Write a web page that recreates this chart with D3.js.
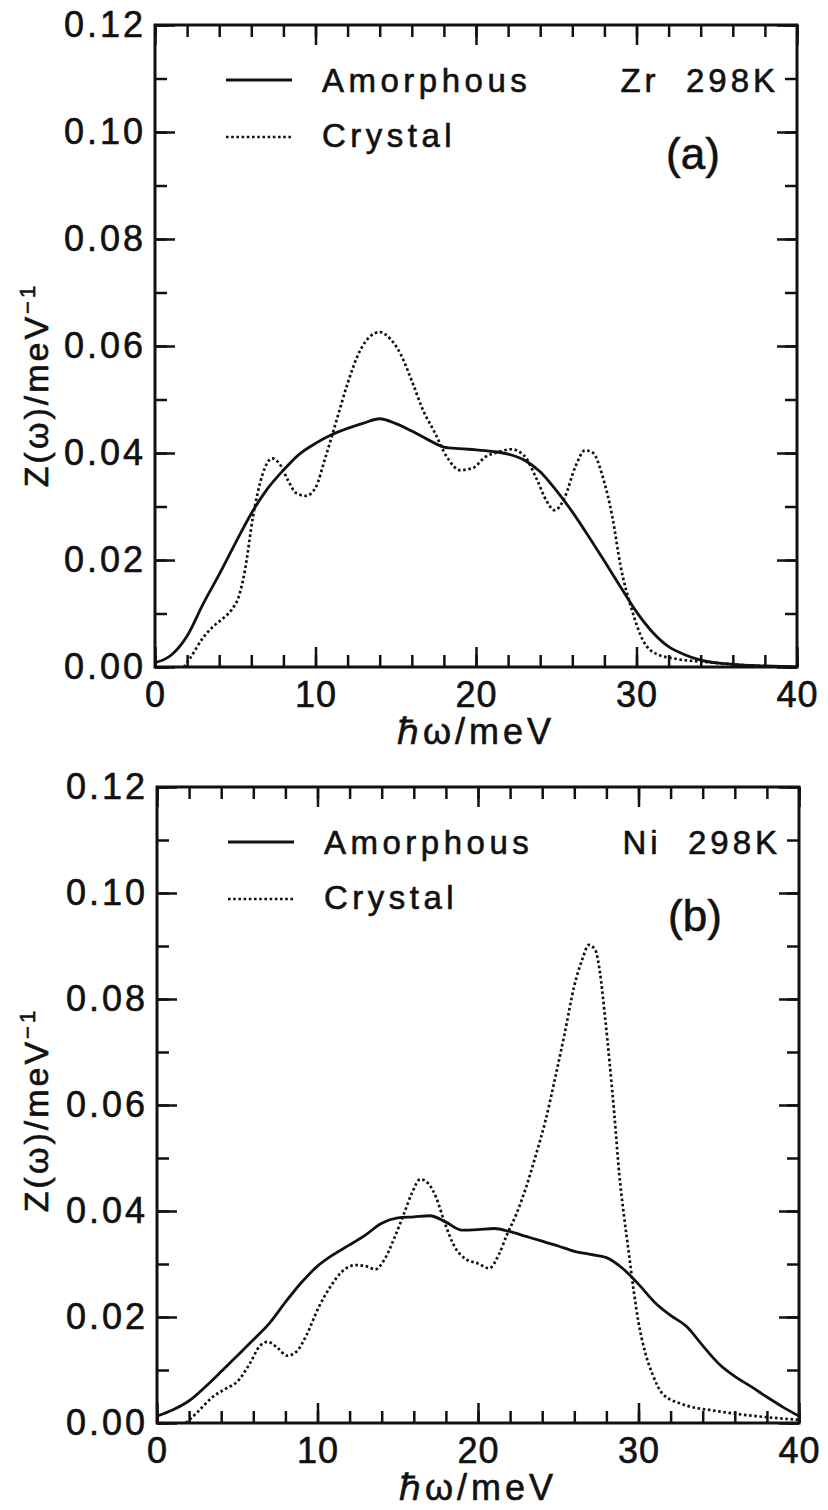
<!DOCTYPE html>
<html>
<head>
<meta charset="utf-8">
<script src="https://cdn.jsdelivr.net/npm/d3@7"></script>
<style>
body { margin: 0; background: #fff; }
svg text { font-family: "Liberation Sans", Arial, Helvetica, sans-serif; fill: #111; stroke: #111; stroke-width: 0.6px; }
</style>
</head>
<body>
<div class="fig"></div>
<script>
// values
var xTicks = [0, 10, 20, 30, 40];
var yTicks = [0, 0.02, 0.04, 0.06, 0.08, 0.10, 0.12];
var seriesNames = ["Amorphous", "Crystal"];

// (a) Zr 298K
var zrAmE = [0,1,2,3,4,5,6,7,8,9,10,11,12,13,14,15,16,17,18,19,20,21,22,23,24,25,26,27,28,29,30,31,32,33,34,36,38,40];
var zrAmZ = [0.0008,0.0022,0.0058,0.0118,0.0173,0.0231,0.0287,0.0333,0.0368,0.0398,
             0.0418,0.0434,0.0446,0.0456,0.0464,0.0455,0.0441,0.0425,0.0411,0.0408,
             0.0406,0.0403,0.0398,0.0387,0.0365,0.033,0.029,0.0245,0.0198,0.015,
             0.0103,0.0065,0.0038,0.0023,0.0013,0.0005,0.0002,0.0];
var zrCrE = [1.8,2.2,3.0,3.6,4.2,4.8,5.2,5.6,6.1,6.7,7.3,7.8,8.3,8.8,9.4,10.0,10.6,11.3,12.0,12.6,
             13.3,14.0,14.7,15.3,16.0,16.7,17.4,18.2,19.0,19.8,20.6,21.4,22.2,23.0,23.8,24.4,24.9,25.5,
             26.2,26.8,27.3,27.9,28.5,29.0,29.7,30.4,31.2,32.5,34.5,37,40];
var zrCrZ = [0,0.0017,0.0055,0.0075,0.009,0.0108,0.013,0.018,0.028,0.036,0.039,0.0378,0.0348,0.0325,
             0.032,0.0335,0.039,0.046,0.053,0.058,0.0615,0.0626,0.0612,0.0585,0.0535,0.048,0.044,
             0.0392,0.0368,0.0372,0.0393,0.0402,0.0407,0.0395,0.035,0.031,0.0293,0.0315,0.0375,
             0.0405,0.040,0.0355,0.028,0.019,0.0108,0.005,0.0025,0.0015,0.0009,0.0003,0];

// (b) Ni 298K
var niAmE = [0,1,2,3,4,5,6,7,8,9,10,11,12,13,14,15,16,17,18,19,20,21,22,23,24,25,26,27,28,29,30,31,32,33,34,35,36,37,38,39,40];
var niAmZ = [0.0013,0.0025,0.0042,0.0068,0.0097,0.0127,0.0157,0.0188,0.0228,0.0265,
             0.0296,0.0318,0.0336,0.0355,0.0377,0.0387,0.0389,0.0391,0.0379,0.0364,
             0.0365,0.0367,0.0361,0.0352,0.0343,0.0334,0.0324,0.0318,0.0312,0.0292,
             0.0262,0.0228,0.0203,0.0182,0.0146,0.0112,0.0088,0.0069,0.0049,0.003,0.0013];
var niCrE = [1.8,2.5,3.5,4.3,5.0,5.8,6.4,6.9,7.5,8.1,8.7,9.3,10.1,10.8,11.5,12.4,13.0,13.6,14.2,14.8,
             15.4,15.9,16.4,16.9,17.4,17.9,18.5,19.2,20.0,20.7,21.3,21.8,22.4,23.0,23.6,24.2,24.8,25.4,
             26.0,26.5,26.9,27.3,27.6,27.9,28.2,28.5,28.8,29.1,29.4,29.7,30.0,30.4,30.9,31.5,32.6,35.0,37.3,40];
var niCrZ = [0,0.002,0.005,0.0065,0.0078,0.0113,0.0145,0.0153,0.0142,0.0127,0.0135,0.0165,0.022,0.0257,
             0.0285,0.0298,0.0296,0.029,0.031,0.035,0.0396,0.0435,0.046,0.0452,0.0425,0.038,0.0335,0.031,
             0.0301,0.0292,0.0318,0.0355,0.0395,0.0445,0.0505,0.057,0.065,0.0735,0.0825,0.0875,0.0902,
             0.0893,0.085,0.077,0.068,0.058,0.047,0.039,0.032,0.025,0.019,0.0135,0.009,0.0055,0.0037,
             0.0022,0.0013,0.0006];

var svg = d3.select(".fig").append("svg").attr("width", 828).attr("height", 1510);

drawPanel({left: 155, right: 797, top: 25, bottom: 667, sample: "Zr  298K", tag: "(a)", ylabelY: 385,
           am: [zrAmE, zrAmZ], cr: [zrCrE, zrCrZ]});
drawPanel({left: 157, right: 799, top: 787, bottom: 1423, sample: "Ni  298K", tag: "(b)", ylabelY: 1110,
           am: [niAmE, niAmZ], cr: [niCrE, niCrZ]});

function zip(xs, ys) {
  return xs.map(function(d, i) { return {e: d, z: ys[i]}; });
}

function drawPanel(p) {
  var x = d3.scaleLinear().domain([0, 40]).range([p.left, p.right]);
  var y = d3.scaleLinear().domain([0, 0.12]).range([p.bottom, p.top]);
  var g = svg.append("g");

  function clean(sel) {
    sel.select(".domain").remove();
    sel.selectAll(".tick line").attr("stroke", "#111").attr("stroke-width", 2.5);
  }

  // minor ticks (inside)
  g.append("g").attr("transform", "translate(0," + p.bottom + ")")
    .call(d3.axisBottom(x).tickValues(x.ticks(20)).tickSize(-12).tickFormat("")).call(clean);
  g.append("g").attr("transform", "translate(0," + p.top + ")")
    .call(d3.axisTop(x).tickValues(x.ticks(20)).tickSize(-12).tickFormat("")).call(clean);
  g.append("g").attr("transform", "translate(" + p.left + ",0)")
    .call(d3.axisLeft(y).tickValues(y.ticks(12)).tickSize(-12).tickFormat("")).call(clean);
  g.append("g").attr("transform", "translate(" + p.right + ",0)")
    .call(d3.axisRight(y).tickValues(y.ticks(12)).tickSize(-12).tickFormat("")).call(clean);

  // major ticks + labels
  var xb = g.append("g").attr("transform", "translate(0," + p.bottom + ")")
    .call(d3.axisBottom(x).tickValues(xTicks).tickSize(-20).tickPadding(14)).call(clean);
  xb.selectAll("text").attr("font-size", null).attr("font-family", null)
    .style("font-size", "36px").style("letter-spacing", "1px");
  g.append("g").attr("transform", "translate(0," + p.top + ")")
    .call(d3.axisTop(x).tickValues(xTicks).tickSize(-20).tickFormat("")).call(clean);
  var yl = g.append("g").attr("transform", "translate(" + p.left + ",0)")
    .call(d3.axisLeft(y).tickValues(yTicks).tickSize(-20).tickPadding(9).tickFormat(d3.format(".2f"))).call(clean);
  yl.selectAll("text").attr("font-size", null).attr("font-family", null)
    .style("font-size", "36px").style("letter-spacing", "3px");
  g.append("g").attr("transform", "translate(" + p.right + ",0)")
    .call(d3.axisRight(y).tickValues(yTicks).tickSize(-20).tickFormat("")).call(clean);

  // frame
  g.append("rect").attr("x", p.left).attr("y", p.top)
    .attr("width", p.right - p.left).attr("height", p.bottom - p.top)
    .attr("fill", "none").attr("stroke", "#111").attr("stroke-width", 3);

  var line = d3.line()
    .x(function(d) { return x(d.e); })
    .y(function(d) { return y(d.z); })
    .curve(d3.curveMonotoneX);

  g.append("path").datum(zip(p.am[0], p.am[1]))
    .attr("d", line).attr("fill", "none").attr("stroke", "#111").attr("stroke-width", 2.8);
  g.append("path").datum(zip(p.cr[0], p.cr[1]))
    .attr("d", line).attr("fill", "none").attr("stroke", "#111")
    .attr("stroke-width", 2.7).attr("stroke-dasharray", "2.6,2.6");

  // legend
  var lx = p.left + 71;
  g.append("line").attr("x1", lx).attr("x2", lx + 66).attr("y1", p.top + 55).attr("y2", p.top + 55)
    .attr("stroke", "#111").attr("stroke-width", 2.8);
  g.append("line").attr("x1", lx).attr("x2", lx + 66).attr("y1", p.top + 112).attr("y2", p.top + 112)
    .attr("stroke", "#111").attr("stroke-width", 2.7).attr("stroke-dasharray", "2.6,2.6");
  g.append("text").attr("x", lx + 96).attr("y", p.top + 67).text(seriesNames[0])
    .style("font-size", "33px").style("letter-spacing", "4.5px");
  g.append("text").attr("x", lx + 96).attr("y", p.top + 122).text(seriesNames[1])
    .style("font-size", "33px").style("letter-spacing", "4.5px");
  g.append("text").attr("x", p.right - 18).attr("y", p.top + 67).attr("text-anchor", "end")
    .style("white-space", "pre").text(p.sample)
    .style("font-size", "33px").style("letter-spacing", "4px");
  g.append("text").attr("x", p.right - 104).attr("y", p.top + 144).attr("text-anchor", "middle")
    .text(p.tag).style("font-size", "44px");

  // axis titles
  g.append("text").attr("x", (p.left + p.right) / 2).attr("y", p.bottom + 77)
    .attr("text-anchor", "middle").text("\u210Fω/meV")
    .style("font-size", "36px").style("letter-spacing", "4px");
  var yt = g.append("text")
    .attr("transform", "translate(48," + p.ylabelY + ") rotate(-90)")
    .attr("text-anchor", "middle")
    .style("font-size", "34px").style("letter-spacing", "3px");
  yt.append("tspan").text("Z(ω)/meV");
  yt.append("tspan").attr("dy", -13).style("font-size", "22px").text("\u22121");
}
</script>
</body>
</html>
